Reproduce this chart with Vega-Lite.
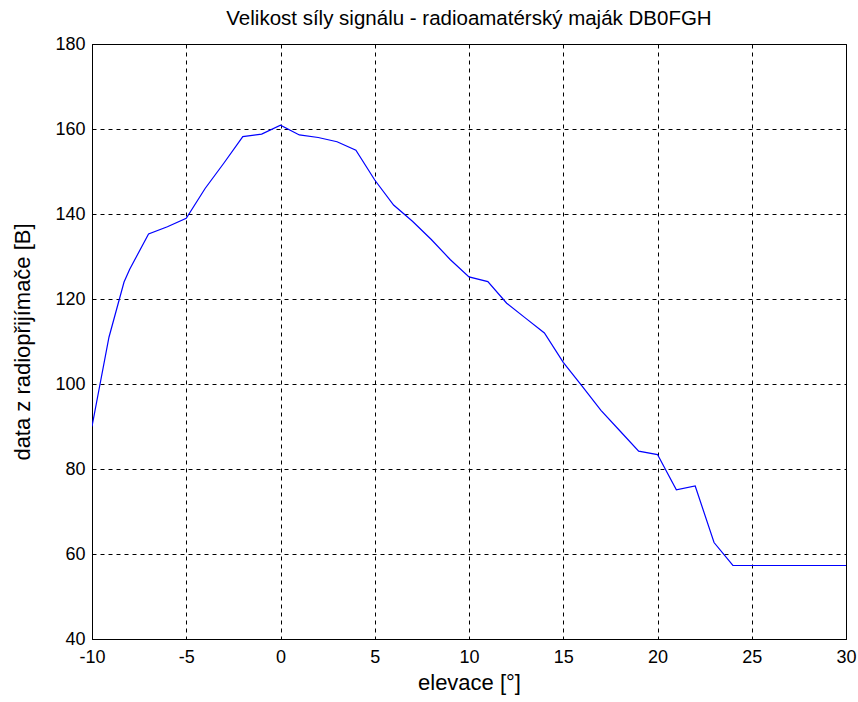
{
  "$schema": "https://vega.github.io/schema/vega-lite/v6.json",
  "width": 754,
  "height": 595,
  "autosize": "none",
  "padding": {"left": 92, "top": 44, "right": 12, "bottom": 63},
  "background": "white",
  "title": {
    "text": "Velikost síly signálu - radioamatérský maják DB0FGH",
    "font": "Liberation Sans",
    "fontSize": 20.5,
    "fontWeight": "normal",
    "color": "black",
    "anchor": "middle",
    "offset": 6
  },
  "config": {
    "view": {"stroke": "black", "strokeWidth": 1},
    "axis": {
      "labelFont": "Liberation Sans",
      "titleFont": "Liberation Sans",
      "labelFontSize": 18,
      "titleFontSize": 22,
      "titleFontWeight": "normal",
      "labelColor": "black",
      "titleColor": "black",
      "domainColor": "black",
      "tickColor": "black",
      "gridColor": "black",
      "gridDash": [4, 4],
      "gridOpacity": 1,
      "gridWidth": 1,
      "tickSize": 0
    }
  },
  "data": {
    "values": [
      {"x": -10, "y": 90},
      {"x": -9.1, "y": 111},
      {"x": -8.3, "y": 124},
      {"x": -8, "y": 127},
      {"x": -7, "y": 135.3},
      {"x": -6, "y": 137},
      {"x": -5, "y": 139},
      {"x": -4, "y": 146},
      {"x": -3, "y": 152},
      {"x": -2, "y": 158.2},
      {"x": -1, "y": 158.8},
      {"x": 0, "y": 160.9},
      {"x": 1, "y": 158.6},
      {"x": 2, "y": 158},
      {"x": 3, "y": 157},
      {"x": 4, "y": 155},
      {"x": 5, "y": 148},
      {"x": 6, "y": 142.1},
      {"x": 7, "y": 138.3},
      {"x": 8, "y": 134},
      {"x": 9, "y": 129.3},
      {"x": 10, "y": 125.2},
      {"x": 11, "y": 124.1},
      {"x": 12, "y": 119},
      {"x": 13, "y": 115.5},
      {"x": 14, "y": 112},
      {"x": 15, "y": 105.1},
      {"x": 16, "y": 99.5},
      {"x": 17, "y": 93.8},
      {"x": 18, "y": 89},
      {"x": 19, "y": 84.2},
      {"x": 20, "y": 83.4},
      {"x": 21, "y": 75.1},
      {"x": 22, "y": 76},
      {"x": 23, "y": 62.7},
      {"x": 24, "y": 57.3},
      {"x": 25, "y": 57.3},
      {"x": 26, "y": 57.3},
      {"x": 27, "y": 57.3},
      {"x": 28, "y": 57.3},
      {"x": 29, "y": 57.3},
      {"x": 30, "y": 57.3}
    ]
  },
  "mark": {"type": "line", "color": "#0000ff", "strokeWidth": 1.2, "clip": true},
  "encoding": {
    "x": {
      "field": "x",
      "type": "quantitative",
      "scale": {"domain": [-10, 30], "nice": false, "zero": false},
      "axis": {"values": [-10, -5, 0, 5, 10, 15, 20, 25, 30], "labelExpr": "'' + datum.value", "title": "elevace [°]", "labelPadding": 9, "titlePadding": 6, "labelFlush": false}
    },
    "y": {
      "field": "y",
      "type": "quantitative",
      "scale": {"domain": [40, 180], "nice": false, "zero": false},
      "axis": {"values": [40, 60, 80, 100, 120, 140, 160, 180], "title": "data z radiopřijímače [B]", "labelPadding": 7, "titlePadding": 20, "labelFlush": false}
    }
  }
}
